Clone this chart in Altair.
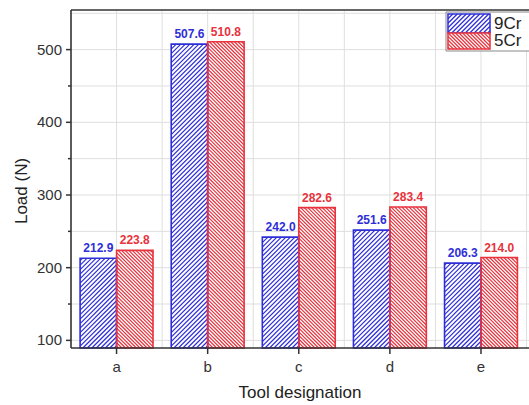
import altair as alt
import pandas as pd

# ---- data ----
categories = ["a", "b", "c", "d", "e"]
series = ["9Cr", "5Cr"]
load_9cr = [212.9, 507.6, 242.0, 251.6, 206.3]
load_5cr = [223.8, 510.8, 282.6, 283.4, 214.0]
y_major_ticks = [100, 200, 300, 400, 500]
y_minor_ticks = [150, 250, 350, 450]
grid_y_values = [100, 150, 200, 250, 300, 350, 400, 450, 500, 550]
grid_x_values = [0, 0.5, 1, 1.5, 2, 2.5, 3, 3.5, 4, 4.5]
x_title = "Tool designation"
y_title = "Load (N)"

# ---- layout / style ----
W, H = 458, 338
XMIN, XMAX = -0.5, 4.527
YMIN, YMAX = 89.5, 554.5
BW = 0.4
BLUE = "#2e2ed8"
RED = "#e8323c"
AXIS_COLOR = "#333333"
FONT = "Liberation Sans"
KX = W / (XMAX - XMIN)
KY = H / (YMAX - YMIN)


def hatch_lines(wp, hp, direction, period):
    """Segments (u0, w0, u1, w1) of 45-degree hatch in a wp x hp box (w upward)."""
    out = []
    if direction == "/":
        c = -wp + period / 2
        while c < hp:
            u0 = max(0.0, -c)
            u1 = min(wp, hp - c)
            if u1 > u0:
                out.append((u0, u0 + c, u1, u1 + c))
            c += period
    else:
        c = period / 2
        while c < wp + hp:
            u0 = max(0.0, c - hp)
            u1 = min(wp, c)
            if u1 > u0:
                out.append((u0, c - u0, u1, c - u1))
            c += period
    return out


style = {"9Cr": ("/", 4.5), "5Cr": ("\\", 3.6)}

bar_rows, hatch_rows = [], []
for i, cat in enumerate(categories):
    for s, vals, x0 in (("9Cr", load_9cr, i - BW), ("5Cr", load_5cr, i)):
        v = vals[i]
        x1 = x0 + BW
        bar_rows.append({"cat": cat, "series": s, "x0": x0, "x1": x1,
                         "xm": (x0 + x1) / 2, "v": v, "base": YMIN,
                         "label": f"{v:.1f}"})
        d, p = style[s]
        for (u0, w0, u1, w1) in hatch_lines((x1 - x0) * KX, (v - YMIN) * KY, d, p):
            hatch_rows.append({"series": s,
                               "hx0": x0 + u0 / KX, "hy0": YMIN + w0 / KY,
                               "hx1": x0 + u1 / KX, "hy1": YMIN + w1 / KY})

bars = pd.DataFrame(bar_rows)
hatch = pd.DataFrame(hatch_rows)

cscale = alt.Scale(domain=series, range=[BLUE, RED])
color = alt.Color("series:N", scale=cscale, legend=None)
xs = alt.Scale(domain=[XMIN, XMAX], nice=False, zero=False)
ys = alt.Scale(domain=[YMIN, YMAX], nice=False, zero=False)

one = pd.DataFrame({"k": [0]})

# grid lines
grid_h = alt.Chart(pd.DataFrame({"gy": grid_y_values})).mark_rule(
    color="#dedede", strokeWidth=1).encode(
    y=alt.Y("gy:Q", scale=ys, axis=None),
)
grid_v = alt.Chart(pd.DataFrame({"gx": grid_x_values})).mark_rule(
    color="#dedede", strokeWidth=1).encode(
    x=alt.X("gx:Q", scale=xs, axis=None),
)

# frame (left, bottom, top; right edge falls outside the picture)
frame = [
    alt.Chart(one).mark_rule(color=AXIS_COLOR, strokeWidth=1.6).encode(
        x=alt.value(0), y=alt.value(0), y2=alt.value(H)),
    alt.Chart(one).mark_rule(color=AXIS_COLOR, strokeWidth=1.6).encode(
        x=alt.value(0), x2=alt.value(W), y=alt.value(H)),
    alt.Chart(one).mark_rule(color=AXIS_COLOR, strokeWidth=1.4).encode(
        x=alt.value(0), x2=alt.value(W), y=alt.value(0)),
]

# axis ticks and labels, positioned through the same scales
y_major = alt.Chart(pd.DataFrame({"ty": y_major_ticks})).mark_rule(
    color=AXIS_COLOR, strokeWidth=1.5).encode(
    y=alt.Y("ty:Q", scale=ys, axis=None), x=alt.value(-5), x2=alt.value(0))
y_minor = alt.Chart(pd.DataFrame({"ty": y_minor_ticks})).mark_rule(
    color=AXIS_COLOR, strokeWidth=1.5).encode(
    y=alt.Y("ty:Q", scale=ys, axis=None), x=alt.value(-3), x2=alt.value(0))
y_labels = alt.Chart(pd.DataFrame({"ty": y_major_ticks})).mark_text(
    align="right", baseline="middle", fontSize=15, font=FONT, color=AXIS_COLOR).encode(
    y=alt.Y("ty:Q", scale=ys, axis=None), x=alt.value(-9), text="ty:Q")

x_df = pd.DataFrame({"tx": list(range(len(categories))), "lab": categories})
x_ticks = alt.Chart(x_df).mark_rule(color=AXIS_COLOR, strokeWidth=1.5).encode(
    x=alt.X("tx:Q", scale=xs, axis=None), y=alt.value(H), y2=alt.value(H + 6))
x_labels = alt.Chart(x_df).mark_text(
    align="center", baseline="middle", fontSize=15, font=FONT, color=AXIS_COLOR).encode(
    x=alt.X("tx:Q", scale=xs, axis=None), y=alt.value(H + 19), text="lab:N")

titles = [
    alt.Chart(pd.DataFrame({"t": [x_title]})).mark_text(
        align="center", baseline="middle", fontSize=17, font=FONT, color="#222222").encode(
        x=alt.value(229), y=alt.value(H + 45), text="t:N"),
    alt.Chart(pd.DataFrame({"t": [y_title]})).mark_text(
        align="center", baseline="middle", fontSize=17, font=FONT, color="#222222",
        angle=270).encode(
        x=alt.value(-49), y=alt.value(181), text="t:N"),
]

bar_fill = alt.Chart(bars).mark_rect(fill="white", strokeWidth=0).encode(
    x=alt.X("x0:Q", scale=xs, axis=None), x2="x1:Q",
    y=alt.Y("v:Q", scale=ys, axis=None), y2="base:Q",
)
hatch_layer = alt.Chart(hatch).mark_rule(strokeWidth=1.2).encode(
    x=alt.X("hx0:Q", scale=xs, axis=None), x2="hx1:Q",
    y=alt.Y("hy0:Q", scale=ys, axis=None), y2="hy1:Q",
    color=color,
)
bar_outline = alt.Chart(bars).mark_rect(fillOpacity=0, strokeWidth=1.6).encode(
    x=alt.X("x0:Q", scale=xs, axis=None), x2="x1:Q",
    y=alt.Y("v:Q", scale=ys, axis=None), y2="base:Q",
    stroke=alt.Stroke("series:N", scale=cscale, legend=None),
)
labels = alt.Chart(bars).mark_text(
    baseline="bottom", dy=-3, fontSize=12, fontWeight="bold", font=FONT).encode(
    x=alt.X("xm:Q", scale=xs, axis=None),
    y=alt.Y("v:Q", scale=ys, axis=None),
    text="label:N",
    color=color,
)

# ---- legend (layout only) ----
LX0, LX1 = 377, 419
sw = [("9Cr", 4, 23), ("5Cr", 23, 39)]
leg_layers = [
    alt.Chart(one).mark_rect(
        fill="white", stroke="#888888", strokeWidth=1).encode(
        x=alt.value(375), x2=alt.value(475), y=alt.value(2), y2=alt.value(41))
]
for s, t, b in sw:
    col = BLUE if s == "9Cr" else RED
    leg_layers.append(alt.Chart(one).mark_rect(
        fill="white", strokeWidth=0).encode(
        x=alt.value(LX0), x2=alt.value(LX1), y=alt.value(t), y2=alt.value(b)))
    d, p = style[s]
    for (u0, w0, u1, w1) in hatch_lines(LX1 - LX0, b - t, d, p):
        leg_layers.append(alt.Chart(one).mark_rule(
            color=col, strokeWidth=1.2).encode(
            x=alt.value(LX0 + u0), x2=alt.value(LX0 + u1),
            y=alt.value(b - w0), y2=alt.value(b - w1)))
    leg_layers.append(alt.Chart(one).mark_rect(
        fillOpacity=0, stroke=col, strokeWidth=1.5).encode(
        x=alt.value(LX0), x2=alt.value(LX1), y=alt.value(t), y2=alt.value(b)))
    leg_layers.append(alt.Chart(pd.DataFrame({"t": [s]})).mark_text(
        align="left", baseline="middle", fontSize=17, font=FONT, color="#222222").encode(
        x=alt.value(LX1 + 4), y=alt.value((t + b) / 2), text="t:N"))

chart = alt.layer(
    grid_h, grid_v, bar_fill, hatch_layer, bar_outline, labels, *frame,
    y_major, y_minor, y_labels, x_ticks, x_labels, *titles, *leg_layers
).properties(
    width=W, height=H,
    autosize=alt.AutoSizeParams(type="none"),
    padding={"left": 71, "top": 10, "right": 0, "bottom": 57},
    background="white",
).configure_view(
    strokeWidth=0,
)

chart.save("out.html", embed_options={"renderer": "svg", "actions": False})
